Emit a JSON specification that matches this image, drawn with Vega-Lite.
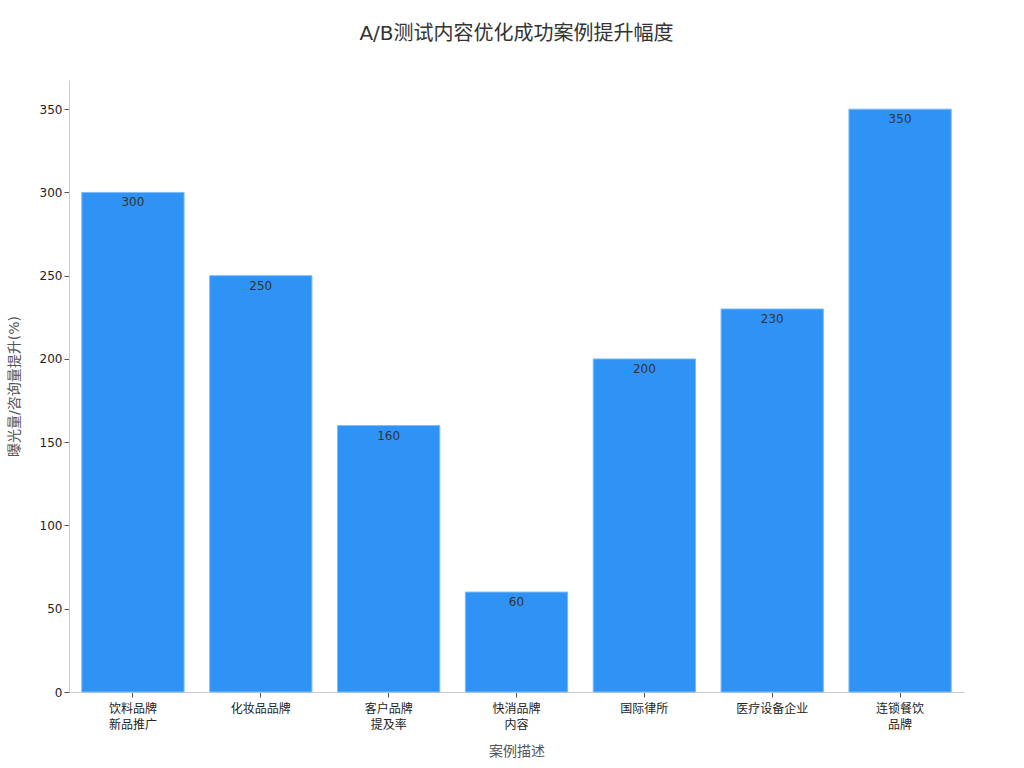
{
  "$schema": "https://vega.github.io/schema/vega-lite/v6.json",
  "autosize": "none",
  "width": 895,
  "height": 612,
  "padding": {"left": 69, "top": 80, "right": 60, "bottom": 76},
  "background": "white",
  "title": {
    "text": "A/B测试内容优化成功案例提升幅度",
    "fontSize": 20,
    "fontWeight": "normal",
    "color": "#333333",
    "offset": 36,
    "anchor": "middle"
  },
  "data": {
    "values": [
      {"case": "饮料品牌\n新品推广", "lift": 300},
      {"case": "化妆品品牌", "lift": 250},
      {"case": "客户品牌\n提及率", "lift": 160},
      {"case": "快消品牌\n内容", "lift": 60},
      {"case": "国际律所", "lift": 200},
      {"case": "医疗设备企业", "lift": 230},
      {"case": "连锁餐饮\n品牌", "lift": 350}
    ]
  },
  "encoding": {
    "x": {
      "field": "case",
      "type": "nominal",
      "sort": null,
      "title": "案例描述",
      "scale": {"paddingInner": 0.2, "paddingOuter": 0.1},
      "axis": {
        "labelAngle": 0,
        "labelExpr": "split(datum.label, '\\n')",
        "labelFontSize": 12,
        "labelColor": "#222222",
        "labelLineHeight": 16,
        "labelPadding": 6,
        "titleFontSize": 14,
        "titleColor": "#555555",
        "titleFontWeight": "normal",
        "titlePadding": 14,
        "domainColor": "#cccccc",
        "tickColor": "#555555"
      }
    },
    "y": {
      "field": "lift",
      "type": "quantitative",
      "title": "曝光量/咨询量提升(%)",
      "scale": {"domain": [0, 367.5], "nice": false},
      "axis": {
        "values": [0, 50, 100, 150, 200, 250, 300, 350],
        "grid": false,
        "labelFontSize": 12,
        "labelColor": "#222222",
        "titleFontSize": 14,
        "titleColor": "#555555",
        "titleFontWeight": "normal",
        "titlePadding": 18,
        "domainColor": "#cccccc",
        "tickColor": "#555555"
      }
    }
  },
  "layer": [
    {
      "mark": {"type": "bar", "color": "#2E93F5", "stroke": "#7DBBF5", "strokeWidth": 1}
    },
    {
      "mark": {"type": "text", "baseline": "top", "dy": 5, "fontSize": 12, "color": "#333333"},
      "encoding": {"text": {"field": "lift", "type": "quantitative"}}
    }
  ],
  "config": {
    "font": "DejaVu Sans, Noto Sans CJK SC",
    "view": {"stroke": null}
  }
}
